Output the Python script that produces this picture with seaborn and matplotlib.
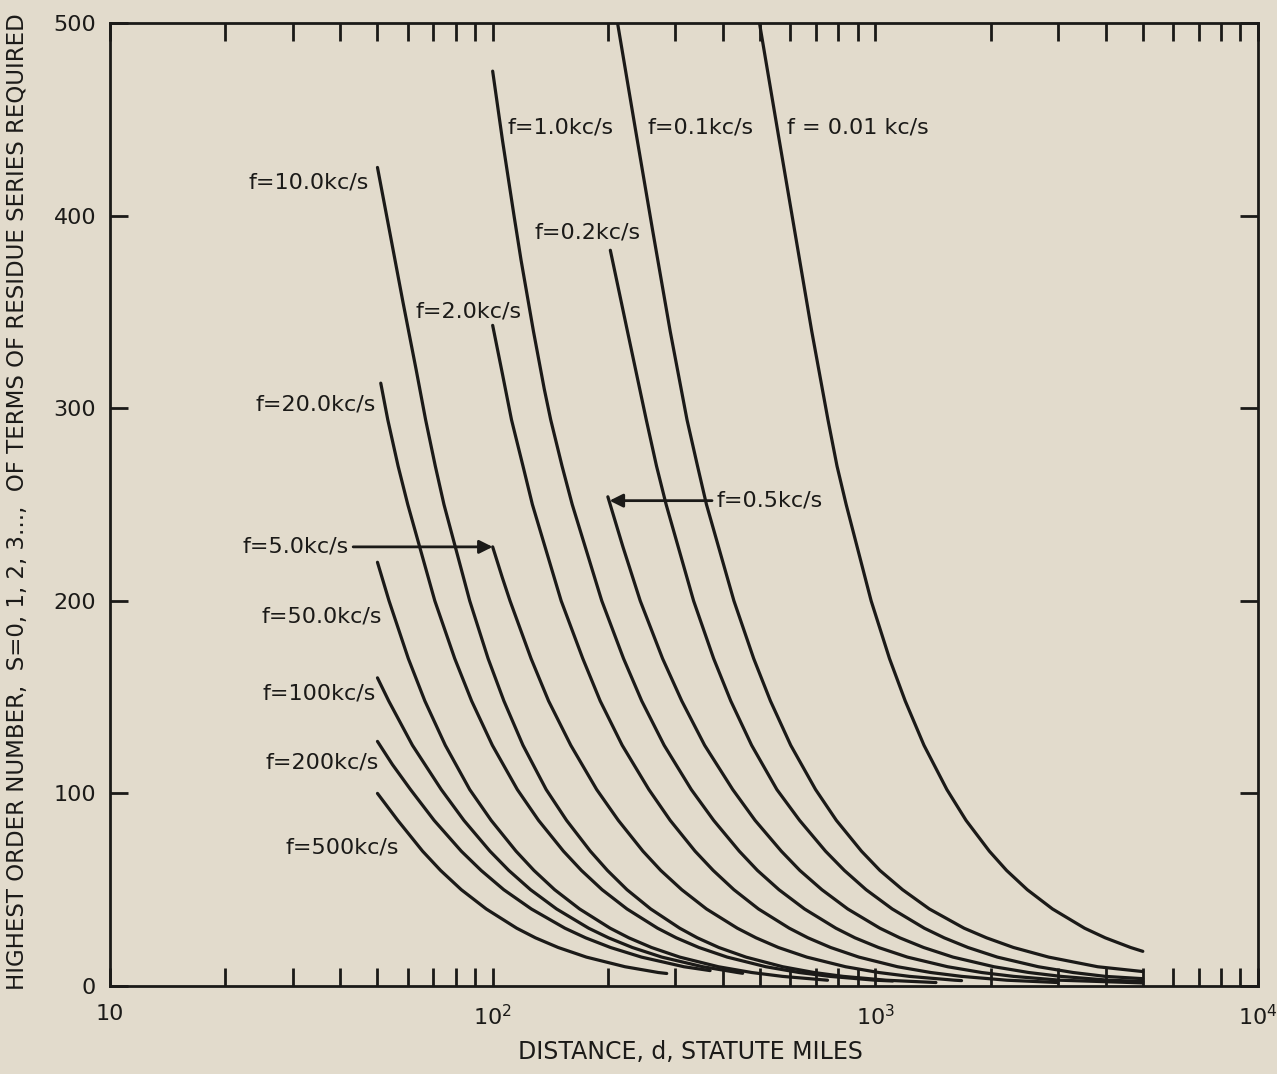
import numpy as np
import pandas as pd
import matplotlib
matplotlib.use('Agg')
import matplotlib.pyplot as plt
import seaborn as sns
from matplotlib.ticker import FixedLocator, FixedFormatter, LogLocator, NullFormatter

# ---------------- data (distance d in statute miles, S = highest order number) ----------------
d_f0_01 = [498, 560, 618, 682, 752, 794, 839, 975, 1089, 1197, 1340, 1538, 1726, 1986, 2203,
           2495, 2904, 3524, 3990, 4645, 5000]
s_f0_01 = [500, 440, 390, 340, 294, 270, 250, 200, 170, 148, 125, 102, 86, 70, 60,
           50, 40, 30, 25, 20, 18]

d_f0_1 = [212, 236, 262, 291, 322, 343, 362, 427, 481, 532, 601, 698, 791, 920, 1028,
          1178, 1384, 1706, 1954, 2296, 2838, 3811, 5000]
s_f0_1 = [500, 445, 392, 340, 294, 270, 250, 200, 170, 148, 125, 102, 86, 70, 60,
          50, 40, 30, 25, 20, 15, 10, 7.5]

d_f0_2 = [203, 225, 252, 268, 284, 335, 378, 419, 475, 553, 634, 741, 830, 946, 1107,
          1343, 1514, 1746, 2084, 2667, 3289, 3990, 5000]
s_f0_2 = [382, 340, 294, 270, 250, 200, 170, 148, 125, 102, 86, 70, 60, 50, 40,
          30, 25, 20, 15, 10, 7, 5, 3.8]

d_f0_5 = [200, 219, 243, 278, 312, 358, 424, 485, 568, 635, 725, 847, 1028, 1159, 1337,
          1596, 2042, 2518, 3055, 4074, 5000]
s_f0_5 = [254, 228, 200, 170, 148, 125, 102, 86, 70, 60, 50, 40, 30, 25, 20,
          15, 10, 7, 5, 3, 2.4]

d_f1 = [100, 106.1, 113.7, 118.6, 127.8, 136.4, 141.8, 151.8, 161.4, 192.8, 219.8, 245.2,
        280.6, 330.4, 378, 441, 492, 560, 653, 789, 885, 1019, 1213, 1545, 1897, 2296,
        3041, 5000]
s_f1 = [475, 439, 400, 377, 340, 310, 294, 270, 250, 200, 170, 148,
        125, 102, 86, 70, 60, 50, 40, 30, 25, 20, 15, 10, 7, 5,
        3, 1.6]

d_f2 = [100, 106, 112, 120, 127, 151, 172, 191, 218, 256, 291, 338, 377, 427, 495,
        596, 667, 764, 906, 1143, 1396, 1679, 2208, 3000]
s_f2 = [343, 318, 294, 270, 250, 200, 170, 148, 125, 102, 86, 70, 60, 50, 40,
        30, 25, 20, 15, 10, 7, 5, 3, 1.8]

d_f5 = [100, 106, 111, 126, 140, 160, 187, 213, 247, 275, 312, 362, 436, 488, 558,
        662, 836, 1021, 1227, 1614, 1680]
s_f5 = [228, 212, 200, 170, 148, 125, 102, 86, 70, 60, 50, 40, 30, 25, 20,
        15, 10, 7, 5, 3, 2.8]

d_f10 = [50, 54, 58.3, 63.1, 66.8, 70.8, 74.6, 87.1, 97.3, 107, 120, 138, 156, 180, 199.5,
         224.4, 258.8, 308.3, 342.8, 389.9, 459.2, 572.8, 691.8, 824, 1069, 1440]
s_f10 = [425, 390, 355, 320, 294, 270, 250, 200, 170, 148, 125, 102, 86, 70, 60,
         50, 40, 30, 25, 20, 15, 10, 7, 5, 3, 1.8]

d_f20 = [51, 53.2, 56.6, 60, 70.6, 79.6, 88.1, 99.8, 116, 131.8, 153.1, 170.6, 193.2,
         224.4, 269.8, 302, 345.9, 410.2, 517.6, 632.4, 760.3, 1000, 1110]
s_f20 = [313, 294, 270, 250, 200, 170, 148, 125, 102, 86, 70, 60, 50,
         40, 30, 25, 20, 15, 10, 7, 5, 3, 2.6]

d_f50 = [50, 53.6, 60.2, 66.5, 75.2, 87.1, 99.1, 115.1, 128.2, 145.2, 168.7, 202.8, 227,
         260, 308.3, 389, 475.3, 571.5, 750]
s_f50 = [220, 200, 170, 148, 125, 102, 86, 70, 60, 50, 40, 30, 25,
         20, 15, 10, 7, 5, 3]

d_f100 = [50, 53.5, 61.7, 73.4, 84.1, 98.4, 110.2, 125.6, 146.9, 178.2, 200.9, 231.7,
          276.7, 354, 436.5, 450]
s_f100 = [160, 148, 125, 102, 86, 70, 60, 50, 40, 30, 25, 20,
          15, 10, 7, 6.6]

d_f200 = [50, 54.7, 61, 70.3, 82.8, 93.3, 106.9, 126.2, 154.5, 175, 203.2, 244.9, 316.2, 370]
s_f200 = [127, 115, 102, 86, 70, 60, 50, 40, 30, 25, 20, 15, 10, 8]

d_f500 = [50, 56.5, 65.6, 73.1, 82.8, 96.2, 115.6, 129.4, 148.3, 175.8, 221.8, 271, 285]
s_f500 = [100, 86, 70, 60, 50, 40, 30, 25, 20, 15, 10, 7, 6.5]

curves = {
    '0.01': (d_f0_01, s_f0_01), '0.1': (d_f0_1, s_f0_1), '0.2': (d_f0_2, s_f0_2),
    '0.5': (d_f0_5, s_f0_5), '1': (d_f1, s_f1), '2': (d_f2, s_f2), '5': (d_f5, s_f5),
    '10': (d_f10, s_f10), '20': (d_f20, s_f20), '50': (d_f50, s_f50),
    '100': (d_f100, s_f100), '200': (d_f200, s_f200), '500': (d_f500, s_f500),
}

x_ticks = [10, 100, 1000, 10000]
x_tick_labels = ['10', r'$10^2$', r'$10^3$', r'$10^4$']
y_ticks = [0, 100, 200, 300, 400, 500]
y_tick_labels = ['0', '100', '200', '300', '400', '500']

x_title = 'DISTANCE, d, STATUTE MILES'
y_title = 'HIGHEST ORDER NUMBER,  S=0, 1, 2, 3...,  OF TERMS OF RESIDUE SERIES REQUIRED'

# ---------------- build table ----------------
rows = []
for f, (ds, ss) in curves.items():
    for d, s in zip(ds, ss):
        rows.append({'f': f, 'd': d, 'S': s})
df = pd.DataFrame(rows)

# ---------------- style ----------------
paper = '#e2dbcc'
ink = '#1b1a18'
sns.set_style('white')
plt.rcParams['font.family'] = ['DejaVu Sans']
plt.rcParams['mathtext.fontset'] = 'dejavusans'

fig = plt.figure(figsize=(12.77, 10.74), dpi=100, facecolor=paper)
ax = fig.add_axes([110/1277, 1-986/1074, (1258-110)/1277, (986-23)/1074])
ax.set_facecolor(paper)

sns.lineplot(data=df, x='d', y='S', units='f', estimator=None, sort=False,
             color=ink, lw=2.3, ax=ax, legend=False)

ax.set_xscale('log')
ax.set_xlim(10, 10000)
ax.set_ylim(0, 500)
ax.xaxis.set_major_locator(FixedLocator(x_ticks))
ax.xaxis.set_major_formatter(FixedFormatter(x_tick_labels))
ax.xaxis.set_minor_locator(LogLocator(base=10, subs=np.arange(2, 10)))
ax.xaxis.set_minor_formatter(NullFormatter())
ax.yaxis.set_major_locator(FixedLocator(y_ticks))
ax.yaxis.set_major_formatter(FixedFormatter(y_tick_labels))

ax.tick_params(axis='x', which='both', direction='in', length=13, width=2,
               top=True, bottom=True, colors=ink, labelsize=16, pad=13)
ax.tick_params(axis='y', which='both', direction='in', length=13, width=2,
               left=True, right=True, colors=ink, labelsize=16, pad=10)
for sp in ax.spines.values():
    sp.set_linewidth(2)
    sp.set_color(ink)
ax.set_xlabel('')
ax.set_ylabel('')

fig.text(690/1277, 1-1052/1074, x_title, ha='center', va='center', fontsize=17, color=ink)
fig.text(18/1277, 1-502/1074, y_title, ha='center', va='center', rotation=90,
         fontsize=16.5, color=ink)

# ---------------- curve labels ----------------
fs = 16
ax.text(47.5, 417, 'f=10.0kc/s', ha='right', va='center', fontsize=fs, color=ink)
ax.text(49.5, 302, 'f=20.0kc/s', ha='right', va='center', fontsize=fs, color=ink)
ax.text(51.5, 192, 'f=50.0kc/s', ha='right', va='center', fontsize=fs, color=ink)
ax.text(49.5, 152, 'f=100kc/s', ha='right', va='center', fontsize=fs, color=ink)
ax.text(50.5, 116, 'f=200kc/s', ha='right', va='center', fontsize=fs, color=ink)
ax.text(57, 72, 'f=500kc/s', ha='right', va='center', fontsize=fs, color=ink)
ax.text(119, 350, 'f=2.0kc/s', ha='right', va='center', fontsize=fs, color=ink)
ax.text(109.5, 446, 'f=1.0kc/s', ha='left', va='center', fontsize=fs, color=ink)
ax.text(254, 446, 'f=0.1kc/s', ha='left', va='center', fontsize=fs, color=ink)
ax.text(586, 446, 'f = 0.01 kc/s', ha='left', va='center', fontsize=fs, color=ink)
ax.text(128.8, 391, 'f=0.2kc/s', ha='left', va='center', fontsize=fs, color=ink)

arrow = dict(arrowstyle='-|>', color=ink, lw=2, mutation_scale=20, shrinkA=1, shrinkB=0)
ax.annotate('f=5.0kc/s', xy=(100, 228), xytext=(42, 228), ha='right', va='center',
            fontsize=fs, color=ink, arrowprops=arrow)
ax.annotate('f=0.5kc/s', xy=(202, 252), xytext=(385, 252), ha='left', va='center',
            fontsize=fs, color=ink, arrowprops=arrow)

fig.savefig('out.png', dpi=100, facecolor=paper)
